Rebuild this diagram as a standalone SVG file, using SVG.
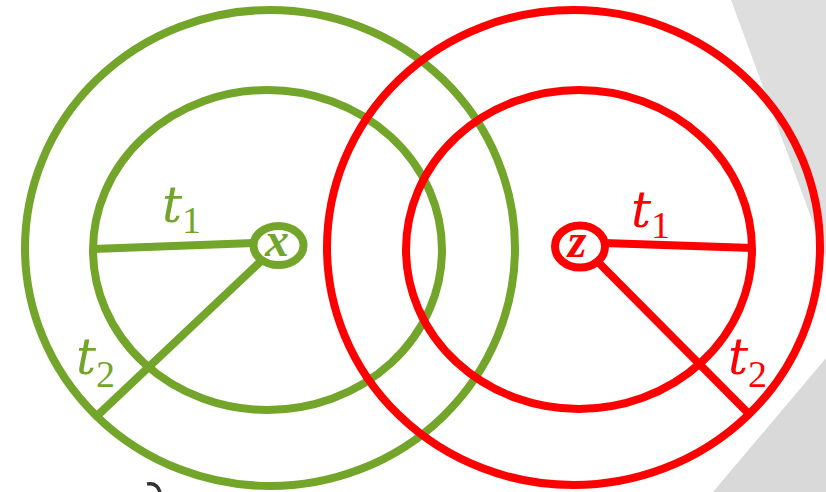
<svg xmlns="http://www.w3.org/2000/svg" width="826" height="492" viewBox="0 0 826 492">
<style>
.g{stroke:#72a52a;fill:none;stroke-width:8}
.r{stroke:#ff0000;fill:none;stroke-width:8}
.gt{fill:#72a52a}
.rt{fill:#ff0000}
.t{font-family:"DejaVu Serif","Liberation Serif",serif;font-style:italic;font-size:50px}
.s{font-family:"Liberation Serif","DejaVu Serif",serif;font-size:38px}
.v{font-family:"Liberation Serif","DejaVu Serif",serif;font-style:italic;font-weight:bold;font-size:48px}
</style>
<rect width="826" height="492" fill="#ffffff"/>
<polygon points="731,0 826,0 826,258" fill="#dedede"/>
<polygon points="826,358 826,492 713,492" fill="#d9d9d9"/>
<path d="M147,484 Q157,482 160,492" fill="none" stroke="#333333" stroke-width="3.5"/>
<g id="green-rings">
<ellipse class="g" cx="270" cy="248" rx="245" ry="238"/>
<ellipse class="g" cx="267.5" cy="250" rx="174.5" ry="160"/>
</g>
<g id="red-rings">
<ellipse class="r" cx="573.5" cy="247.5" rx="246.5" ry="237.5"/>
<ellipse class="r" cx="579" cy="249.5" rx="173" ry="159.5"/>
</g>
<g id="connectors">
<line class="g" x1="93" y1="249" x2="254" y2="243"/>
<line class="g" x1="260" y1="262" x2="99" y2="414"/>
<line class="r" x1="604" y1="243" x2="753" y2="248"/>
<line class="r" x1="598" y1="262" x2="748" y2="413"/>
</g>
<g id="node-x">
<ellipse class="g" cx="278.5" cy="245.5" rx="25" ry="19.5" style="fill:#ffffff"/>
<text class="v gt" x="277" y="256" text-anchor="middle">x</text>
</g>
<g id="node-z">
<ellipse class="r" cx="580" cy="246.5" rx="25" ry="21" style="fill:#ffffff"/>
<text class="v rt" x="577" y="257" text-anchor="middle">z</text>
</g>
<g id="labels">
<text class="gt" x="162" y="222"><tspan class="t">t</tspan><tspan class="s" dy="11">1</tspan></text>
<text class="gt" x="76" y="374"><tspan class="t">t</tspan><tspan class="s" dy="13">2</tspan></text>
<text class="rt" x="631" y="227"><tspan class="t">t</tspan><tspan class="s" dy="11">1</tspan></text>
<text class="rt" x="728" y="374"><tspan class="t">t</tspan><tspan class="s" dy="13">2</tspan></text>
</g>
</svg>
